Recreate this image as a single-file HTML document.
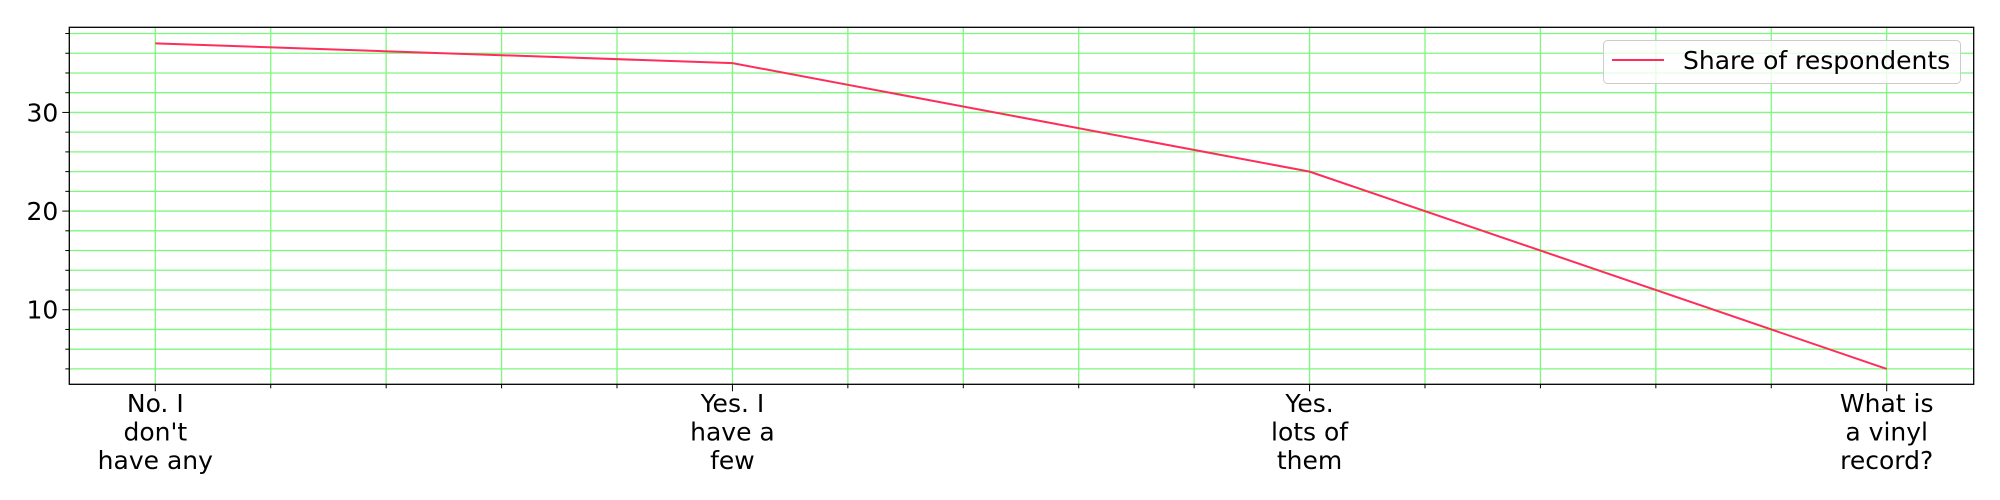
<!DOCTYPE html>
<html><head><meta charset="utf-8"><style>
html,body{margin:0;padding:0;background:#fff;}
svg{display:block;font-family:"DejaVu Sans","Liberation Sans",sans-serif;}
</style></head><body>
<svg id="chart" width="2000" height="500"></svg>
<script>
const categories = ["No. I|don't|have any", "Yes. I|have a|few", "Yes.|lots of|them", "What is|a vinyl|record?"];
const shareValues = [37, 35, 24, 4];
const yTicks = [10, 20, 30];
const seriesName = "Share of respondents";

const NS = "http://www.w3.org/2000/svg";
const svg = document.getElementById('chart');
const L = 69.3, R = 1973.7, T = 27.3, B = 384.3;
const yMin = 2.44, yMax = 38.63;
const x0 = 155.3, x3 = 1886.7;
function xs(i){ return x0 + (x3 - x0) * i / (categories.length - 1); }
function ys(v){ return B - (v - yMin) / (yMax - yMin) * (B - T); }
function mk(tag, attrs){ const e = document.createElementNS(NS, tag); for (const k in attrs) e.setAttribute(k, attrs[k]); svg.appendChild(e); return e; }

for (let v = 4; v <= 38; v += 2) {
  const y = ys(v);
  const g = mk('line', {x1: L, x2: R, y1: y, y2: y, stroke: '#7ef77e', 'stroke-width': 1.3});
  
  
  const t = mk('line', {x1: L - (v % 10 === 0 ? 7 : 4), x2: L, y1: y, y2: y, stroke: '#000', 'stroke-width': 1});
  
  
}
const step = (x3 - x0) / (categories.length - 1) / 5;
for (let k = 0; k <= (categories.length - 1) * 5; k++) {
  const x = x0 + step * k;
  const g = mk('line', {x1: x, x2: x, y1: T, y2: B, stroke: '#7ef77e', 'stroke-width': 1.3});
  
  
  const t = mk('line', {x1: x, x2: x, y1: B, y2: B + (k % 5 === 0 ? 7 : 4), stroke: '#000', 'stroke-width': 1});
  
  
}
yTicks.forEach(v => {
  const t = mk('text', {x: L - 11, y: ys(v) + 9, 'text-anchor': 'end', 'font-size': 25, fill: '#000'});
  t.textContent = v;
  
  
});
categories.forEach((c, i) => {
  const t = mk('text', {x: xs(i), y: 0, 'text-anchor': 'middle', 'font-size': 25, fill: '#000'});
  
  
  c.split('|').forEach((ln, j) => {
    const s = document.createElementNS(NS, 'tspan');
    s.setAttribute('x', xs(i));
    s.setAttribute('y', 412 + j * 28.5);
    s.textContent = ln;
    t.appendChild(s);
  });
});
const pts = shareValues.map((v, i) => xs(i) + ',' + ys(v)).join(' ');
const line = mk('polyline', {points: pts, fill: 'none', stroke: '#ff2d5a', 'stroke-width': 2});


const fr = mk('rect', {x: L, y: T, width: R - L, height: B - T, fill: 'none', stroke: '#000', 'stroke-width': 1.3});


const lb = mk('rect', {x: 1603.5, y: 40.5, width: 357, height: 43, rx: 4, fill: 'rgba(255,255,255,0.8)', stroke: '#ccc', 'stroke-width': 1});


const ll = mk('line', {x1: 1612, x2: 1664, y1: 60, y2: 60, stroke: '#ff2d5a', 'stroke-width': 2});


const lt = mk('text', {x: 1683, y: 69, 'font-size': 25, fill: '#000'});
lt.textContent = seriesName;


</script>
</body></html>
